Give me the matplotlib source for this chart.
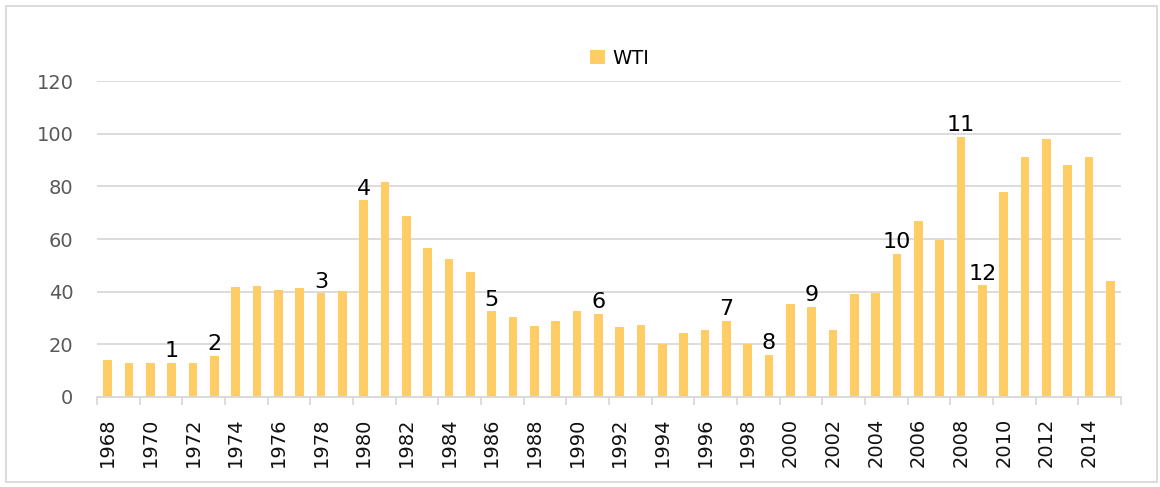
import numpy as np
import matplotlib
matplotlib.use('Agg')
import matplotlib.pyplot as plt
from matplotlib.patches import Rectangle

# WTI yearly values
years = list(range(1968, 2016))
wti = [13.9, 12.9, 12.9, 13.1, 12.8, 15.6, 41.7, 42.2, 40.8, 41.5,
       39.4, 40.3, 74.7, 81.7, 68.9, 56.7, 52.4, 47.6, 32.5, 30.5,
       27.1, 28.9, 32.8, 31.7, 26.7, 27.3, 20.0, 24.3, 25.6, 29.0,
       20.1, 16.1, 35.2, 34.2, 25.3, 39.2, 39.6, 54.3, 67.0, 59.6,
       98.9, 42.5, 77.9, 91.0, 98.0, 88.2, 91.0, 44.1]

# numbered event labels: year -> label
event_years = [1971, 1973, 1978, 1980, 1986, 1991, 1997, 1999, 2001, 2005, 2008, 2009]
event_labels = ['1', '2', '3', '4', '5', '6', '7', '8', '9', '10', '11', '12']

bar_color = '#FFCC66'
grid_color = '#D9D9D9'

fig = plt.figure(figsize=(11.6, 4.87), dpi=100)
ax = fig.add_axes([97 / 1160, 1 - 397 / 487, 1024 / 1160, 316 / 487])

x = np.arange(len(years))
ax.bar(x, wti, width=0.42, color=bar_color, zorder=3, label='WTI')

for yr, lab in zip(event_years, event_labels):
    i = years.index(yr)
    ax.annotate(lab, (x[i], wti[i]), xytext=(0, 4), textcoords='offset points',
                ha='center', va='baseline', fontsize=16, color='black', zorder=4)

ax.set_xlim(-0.5, len(years) - 0.5)
ax.set_ylim(0, 120)
ax.set_yticks(range(0, 121, 20))
ax.yaxis.grid(True, color=grid_color, linewidth=1.3, zorder=0)
ax.tick_params(axis='y', length=0, pad=17, labelsize=14, labelcolor='#595959')

# year labels every 2 years, tick marks on category boundaries
ax.set_xticks(x[::2])
ax.set_xticklabels([str(y) for y in years[::2]], rotation=90)
ax.set_xticks(np.arange(-0.5, len(years), 2), minor=True)
ax.tick_params(axis='x', which='major', length=0, pad=15, labelsize=14, labelcolor='#111111')
ax.tick_params(axis='x', which='minor', length=6, width=1.3, color=grid_color)

for side in ['top', 'right', 'left']:
    ax.spines[side].set_visible(False)
ax.spines['bottom'].set_color(grid_color)
ax.spines['bottom'].set_linewidth(1.3)
ax.spines['bottom'].set_zorder(3)

fig.legend(loc='center', bbox_to_anchor=(620 / 1160, 1 - 58 / 487), frameon=False,
           fontsize=14, handlelength=0.75, handleheight=0.75, handletextpad=0.4)

# chart border
fig.patches.append(Rectangle((6 / 1160, 5 / 487), 1151 / 1160, 476 / 487,
                             transform=fig.transFigure, fill=False,
                             edgecolor=grid_color, linewidth=1.3))

fig.savefig('out.png', dpi=100)
